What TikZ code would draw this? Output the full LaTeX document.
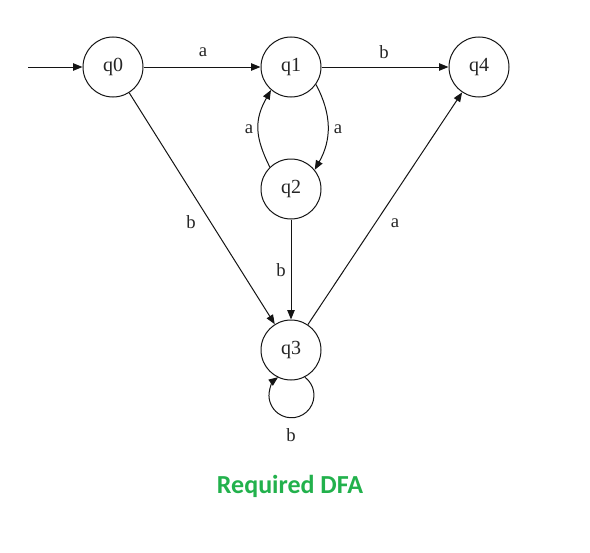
\documentclass[tikz,border=0pt]{standalone}
\usepackage{fontspec}
\setmainfont{Liberation Serif}
\newfontfamily\titlefont{Carlito}
\usetikzlibrary{arrows.meta}
\definecolor{titlegreen}{RGB}{34,177,76}
\definecolor{lineblack}{RGB}{20,20,20}
\tikzset{
  state/.style={draw=lineblack, line width=0.75pt, circle, minimum size=45pt, inner sep=0pt, font=\fontsize{15}{17}\selectfont, text=black!85},
  conn/.style={draw=lineblack, line width=0.75pt, -{Triangle[length=7pt,width=5.5pt]}},
  lab/.style={font=\fontsize{14}{16}\selectfont, text=black!85, inner sep=0pt}
}
\begin{document}
\begin{tikzpicture}[x=0.75pt,y=0.75pt]
\useasboundingbox (0,0) rectangle (590,-553);
\node[state] (q0) at (113,-67) {q0};
\node[state] (q1) at (291,-67) {q1};
\node[state] (q4) at (479,-67) {q4};
\node[state] (q2) at (291,-189) {q2};
\node[state] (q3) at (291,-350) {q3};
\coordinate (start) at (28,-67);

\draw[conn] (start) -- (q0);
\draw[conn] (q0) -- (q1);
\draw[conn] (q1) -- (q4);
\draw[conn] (q0) -- (q3);
\draw[conn] (q2) -- (q3);
\draw[conn] (q3) -- (q4);
\draw[conn] (q1.-35) .. controls +(16,-30) and +(17,30) .. (q2.39);
\draw[conn] (q2.134) .. controls +(-15,30) and +(-17,-30) .. (q1.-131);
\draw[conn] (q3.-63) arc[start angle=53.5, end angle=-233.5, radius=22.5];

\node[lab] (la1) at (203,-52) {a};
\node[lab] (lb1) at (384,-52) {b};
\node[lab] (lb2) at (191,-222) {b};
\node[lab] (la2) at (338,-129) {a};
\node[lab] (la3) at (249,-129) {a};
\node[lab] (lb3) at (281,-270) {b};
\node[lab] (la4) at (395,-223) {a};
\node[lab] (lb4) at (291,-435) {b};

\node[font=\titlefont\bfseries\fontsize{19.5}{22}\selectfont, text=titlegreen, inner sep=0pt] (title) at (290,-486) {Required DFA};
\end{tikzpicture}
\end{document}
